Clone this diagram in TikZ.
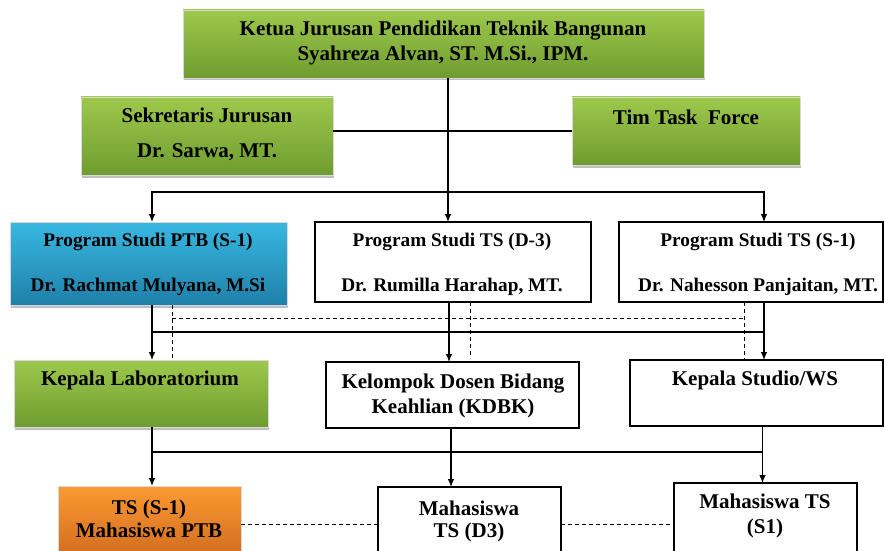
\documentclass[tikz,border=0pt]{standalone}
\usepackage{fontspec}
\setmainfont{Liberation Serif}
\usetikzlibrary{arrows.meta,shadows}
\definecolor{gtop}{HTML}{9EC84C}
\definecolor{gbot}{HTML}{6F9C30}
\definecolor{btop}{HTML}{38B8E2}
\definecolor{bbot}{HTML}{1F80A8}
\definecolor{otop}{HTML}{FA9A32}
\definecolor{obot}{HTML}{CF681D}
\begin{document}
\begin{tikzpicture}[x=1pt,y=-1pt,
  box/.style={anchor=north west, inner sep=0pt, outer sep=0pt, rectangle},
  sh/.style={drop shadow={shadow xshift=1pt, shadow yshift=-2.5pt, fill=gray!55, opacity=0.9}},
  gbox/.style={box, sh, draw=gray!30, line width=0.8pt, top color=gtop, bottom color=gbot},
  bbox/.style={box, sh, draw=gray!30, line width=0.8pt, top color=btop, bottom color=bbot},
  obox/.style={box, draw=gray!30, line width=0.8pt, top color=otop, bottom color=obot},
  wbox/.style={box, draw=black, line width=1.1pt, fill=white},
  txt/.style={font=\bfseries\fontsize{21}{24}\selectfont, inner sep=0pt, align=center},
  txtp/.style={font=\bfseries\fontsize{19.3}{22}\selectfont, inner sep=0pt, align=center},
  ln/.style={draw=black, line width=1.1pt},
  arr/.style={ln, -{Latex[length=8pt,width=6.5pt]}},
  dsh/.style={draw=black, line width=0.9pt, dash pattern=on 4pt off 3pt}
]
\useasboundingbox (0,0) rectangle (884,551);
\clip (0,0) rectangle (884,551);
\fill[white] (0,0) rectangle (884,551);

% boxes
\node[gbox, minimum width=521pt, minimum height=68pt] (top) at (183,10) {};
\node[gbox, minimum width=252pt, minimum height=78pt] (sek) at (81,97) {};
\node[gbox, minimum width=228pt, minimum height=68pt] (tim) at (572,97) {};
\node[bbox, minimum width=277pt, minimum height=83pt] (ptb) at (10,222) {};
\node[wbox, minimum width=276pt, minimum height=80pt] (tsd3) at (315,222) {};
\node[wbox, minimum width=264pt, minimum height=80pt] (tss1) at (619,222) {};
\node[gbox, minimum width=254pt, minimum height=67pt] (lab) at (14,360) {};
\node[wbox, minimum width=253pt, minimum height=66pt] (kdbk) at (326,362) {};
\node[wbox, minimum width=253pt, minimum height=66pt] (studio) at (630,360) {};
\node[obox, minimum width=183pt, minimum height=76pt] (tsp) at (58,486) {};
\node[wbox, minimum width=183pt, minimum height=74pt] (mhd3) at (378,487) {};
\node[wbox, minimum width=183pt, minimum height=82pt] (mhs1) at (674,483) {};

% texts
\node[txt] (top-t) at (443,43) {Ketua Jurusan Pendidikan Teknik Bangunan\\[1pt]Syahreza Alvan, ST. M.Si., IPM.};
\node[txt] (sek-t) at (207,134.5) {Sekretaris Jurusan\\[11pt]Dr. Sarwa, MT.};
\node[txt] (tim-t) at (686,117) {Tim Task\ \ Force};
\node[txtp] (ptb-t) at (148,264.5) {Program Studi PTB (S-1)\\[23pt]Dr. Rachmat Mulyana, M.Si};
\node[txtp] (tsd3-t) at (452,264.5) {Program Studi TS (D-3)\\[23pt]Dr. Rumilla Harahap, MT.};
\node[txtp] (tss1-t) at (758,264.5) {Program Studi TS (S-1)\\[23pt]Dr. Nahesson Panjaitan, MT.};
\node[txt] (lab-t) at (140,380) {Kepala Laboratorium};
\node[txt] (kdbk-t) at (453,395.5) {Kelompok Dosen Bidang\\[1pt]Keahlian (KDBK)};
\node[txt] (studio-t) at (755,380) {Kepala Studio/WS};
\node[txt] (tsp-t) at (149,518.5) {TS (S-1)\\[-1pt]Mahasiswa PTB};
\node[txt] (mhd3-t) at (469,521) {Mahasiswa\\[-2pt]TS (D3)};
\node[txt] (mhs1-t) at (765,515.5) {Mahasiswa TS\\[1pt](S1)};

% top connectors
\coordinate (j0) at (448,192);
\draw[ln] ([xshift=4.5pt]top.south) -- (j0);
\draw[ln] (sek.east |- tim.west) -- (tim.west);
\draw[arr] (j0) -| ([xshift=3.5pt]ptb.north);
\draw[arr] (j0) -- ([xshift=-5pt]tsd3.north);
\draw[arr] (j0) -| ([xshift=13pt]tss1.north);

% middle connectors
\coordinate (b1) at (152,332);
\coordinate (b2) at (764,332);
\draw[ln] (b1) -- (b2);
\draw[arr] ([xshift=3.5pt]ptb.south) -- ([xshift=3.5pt]ptb.south |- lab.north);
\draw[arr] ([xshift=-4pt]tsd3.south) -- ([xshift=-4pt]tsd3.south |- kdbk.north);
\draw[arr] ([xshift=13pt]tss1.south) -- ([xshift=13pt]tss1.south |- studio.north);
\coordinate (d1) at (172,318);
\coordinate (d2) at (744,318);
\draw[dsh] (d1) -- (d2);
\draw[dsh] ([xshift=23.5pt]ptb.south) -- ([xshift=23.5pt]ptb.south |- lab.north);
\draw[dsh] ([xshift=17pt]tsd3.south) -- ++(0,56);
\draw[dsh] ([xshift=-7pt]tss1.south) -- ([xshift=-7pt]tss1.south |- studio.north);

% bottom connectors
\coordinate (c1) at (152,452);
\coordinate (c2) at (763,452);
\draw[ln] (c1) -- (c2);
\draw[arr] ([xshift=11pt]lab.south) -- ([xshift=11pt]lab.south |- tsp.north);
\draw[arr] ([xshift=-1.5pt]kdbk.south) -- ([xshift=-1.5pt]kdbk.south |- mhd3.north);
\draw[arr] ([xshift=6pt]studio.south) -- ([xshift=6pt]studio.south |- mhs1.north);
\draw[dsh] (tsp.east) -- (mhd3.west);
\draw[dsh] (mhd3.east) -- (mhs1.west);
\end{tikzpicture}
\end{document}
